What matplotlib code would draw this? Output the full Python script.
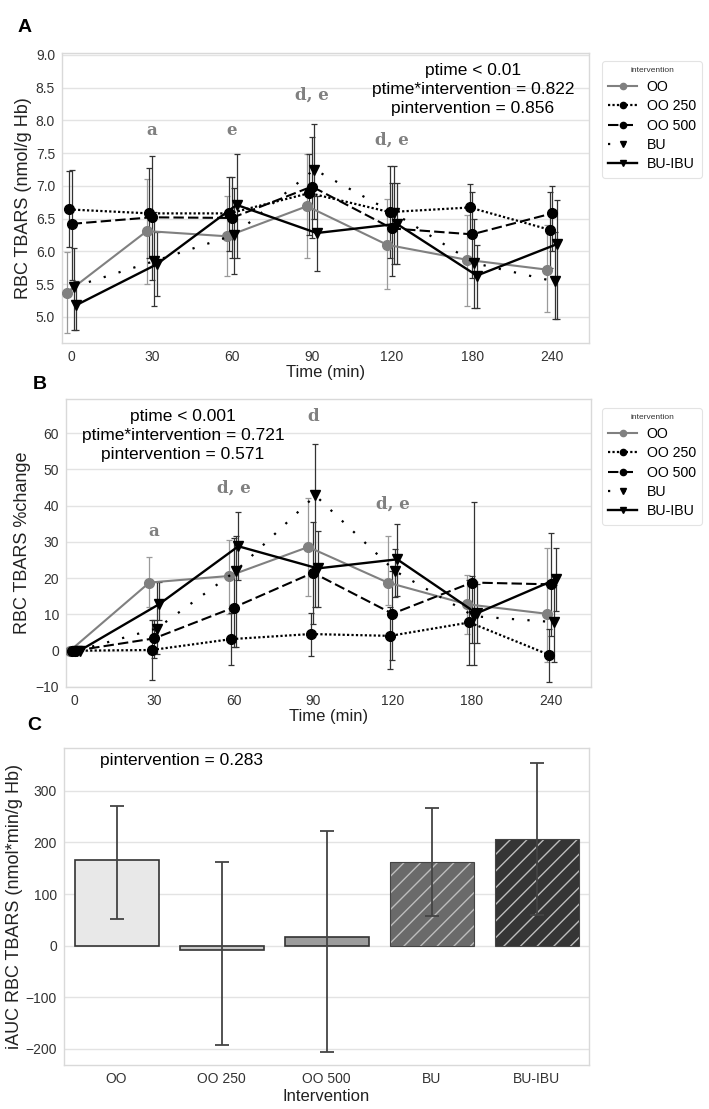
import numpy as np
import matplotlib
matplotlib.use("Agg")
import matplotlib.pyplot as plt
from matplotlib.lines import Line2D

plt.rcParams['font.family'] = ['Liberation Sans', 'DejaVu Sans']

# ---------------- data ----------------
times = ["0", "30", "60", "90", "120", "180", "240"]
groups = ["OO", "OO 250", "OO 500", "BU", "BU-IBU"]

# Panel A: RBC TBARS (nmol/g Hb) means and CI bounds
a_mean = {
    "OO":     [5.37, 6.31, 6.23, 6.69, 6.10, 5.87, 5.72],
    "OO 250": [6.64, 6.58, 6.58, 6.89, 6.60, 6.67, 6.33],
    "OO 500": [6.42, 6.52, 6.51, 6.99, 6.35, 6.26, 6.58],
    "BU":     [5.46, 5.85, 6.25, 7.25, 6.58, 5.82, 5.54],
    "BU-IBU": [5.18, 5.80, 6.71, 6.28, 6.42, 5.63, 6.11],
}
a_low = {
    "OO":     [4.75, 5.50, 5.62, 5.90, 5.43, 5.17, 5.07],
    "OO 250": [6.07, 5.90, 6.00, 6.25, 5.90, 6.30, 5.75],
    "OO 500": [5.57, 5.57, 5.90, 6.20, 5.62, 5.60, 6.00],
    "BU":     [4.80, 5.17, 5.66, 6.50, 5.80, 5.14, 4.97],
    "BU-IBU": [4.80, 5.32, 5.90, 5.70, 5.80, 5.14, 4.97],
}
a_high = {
    "OO":     [5.99, 7.10, 6.85, 7.48, 6.80, 6.55, 6.40],
    "OO 250": [7.22, 7.27, 7.13, 7.48, 7.30, 7.03, 6.90],
    "OO 500": [7.25, 7.45, 7.13, 7.75, 7.05, 6.91, 7.00],
    "BU":     [6.05, 6.60, 6.97, 7.95, 7.31, 6.50, 6.30],
    "BU-IBU": [5.55, 6.30, 7.48, 6.85, 7.05, 6.10, 6.79],
}

# Panel B: RBC TBARS %change
b_mean = {
    "OO":     [0, 18.8, 20.6, 28.6, 18.8, 12.8, 10.2],
    "OO 250": [0, 0.2, 3.2, 4.6, 4.1, 7.8, -1.1],
    "OO 500": [0, 3.4, 11.9, 21.5, 10.2, 18.8, 18.3],
    "BU":     [0, 6.1, 22.0, 42.8, 22.0, 9.5, 7.9],
    "BU-IBU": [0, 12.8, 28.8, 22.7, 25.2, 10.3, 19.7],
}
b_low = {
    "OO":     [0, 12.0, 10.0, 15.0, 12.5, 4.5, -3.0],
    "OO 250": [0, -8.0, -4.0, -1.5, -5.0, -4.0, -8.7],
    "OO 500": [0, -2.0, 1.0, 7.5, -2.5, 2.0, 4.0],
    "BU":     [0, -1.0, 1.0, 12.0, 14.8, -4.0, -3.0],
    "BU-IBU": [0, 8.5, 19.5, 12.0, 15.0, 2.0, 11.0],
}
b_high = {
    "OO":     [0, 25.8, 30.4, 42.0, 31.6, 21.0, 28.3],
    "OO 250": [0, 8.5, 10.5, 10.5, 12.0, 19.5, 6.0],
    "OO 500": [0, 8.5, 31.0, 35.5, 22.0, 20.5, 32.5],
    "BU":     [0, 19.0, 31.5, 57.0, 28.0, 41.0, 18.0],
    "BU-IBU": [0, 19.0, 38.2, 33.0, 35.0, 18.5, 28.3],
}

# Panel C: iAUC RBC TBARS
c_mean = [166, -8, 17, 163, 206]
c_low = [52, -193, -205, 58, 60]
c_high = [271, 163, 223, 266, 353]

# annotations (letter, time index, y value)
a_notes = [("a", 1, 7.85), ("e", 2, 7.85), ("d, e", 3, 8.39), ("d, e", 4, 7.70)]
b_notes = [("a", 1, 33.0), ("d, e", 2, 44.9), ("d", 3, 64.6), ("d, e", 4, 40.3)]

# ---------------- styles ----------------
styles = {
    "OO":     dict(color="#808080", ls="-", marker="o", lw=1.5, ecol="#9a9a9a"),
    "OO 250": dict(color="black", ls=(0, (1, 1)), marker="o", lw=1.6, ecol="#333333"),
    "OO 500": dict(color="black", ls=(0, (5, 2)), marker="o", lw=1.5, ecol="#333333"),
    "BU":     dict(color="black", ls=(0, (1, 6)), marker="v", lw=1.6, ecol="#333333"),
    "BU-IBU": dict(color="black", ls="-", marker="v", lw=1.7, ecol="#333333"),
}
offsets = {"OO": -0.06, "OO 250": -0.03, "OO 500": 0.0, "BU": 0.03, "BU-IBU": 0.06}

W, H = 709, 1109
fig = plt.figure(figsize=(W / 100, H / 100), dpi=100)


def add_ax(l, r, t, b):
    return fig.add_axes([l / W, 1 - b / H, (r - l) / W, (b - t) / H])


def style_ax(ax):
    ax.set_facecolor("white")
    for s in ax.spines.values():
        s.set_color("#d9d9d9")
        s.set_linewidth(1.0)
    ax.grid(axis="y", color="#e3e3e3", lw=1.0)
    ax.set_axisbelow(True)
    ax.tick_params(length=0, labelsize=10, colors="#333333", pad=5)


def point_panel(ax, mean, low, high):
    xs = np.arange(len(times))
    for g in groups:
        st = styles[g]
        x = xs + offsets[g]
        m = np.array(mean[g], float)
        lo = np.array(low[g], float)
        hi = np.array(high[g], float)
        ax.errorbar(x, m, yerr=[m - lo, hi - m], fmt="none", ecolor=st["ecol"],
                    elinewidth=0.9, capsize=2.5, capthick=0.9, zorder=2)
        ax.plot(x, m, color=st["color"], ls=st["ls"], lw=st["lw"], marker=st["marker"],
                ms=7, zorder=3)
    ax.set_xticks(xs)
    ax.set_xticklabels(times)


def legend(ax, anchor):
    handles = [Line2D([], [], color=styles[g]["color"], ls=styles[g]["ls"],
                      lw=styles[g]["lw"], marker=styles[g]["marker"], ms=4.5)
               for g in groups]
    leg = ax.legend(handles, groups, title="intervention", loc="upper left",
                    bbox_to_anchor=anchor, fontsize=10.2, title_fontsize=6,
                    frameon=True, handlelength=2.0, handletextpad=0.7,
                    labelspacing=0.38, borderpad=0.45, borderaxespad=0)
    leg.get_frame().set_edgecolor("#dddddd")
    leg.get_frame().set_linewidth(0.8)
    leg.get_title().set_color("#333333")


note_kw = dict(ha="center", va="center", fontsize=12, fontweight="bold",
               color="#808080", family="DejaVu Serif")

# ---------------- Panel A ----------------
axA = add_ax(62, 589, 53, 343)
style_ax(axA)
point_panel(axA, a_mean, a_low, a_high)
axA.set_xlim(-0.12, 6.46)
axA.set_ylim(4.6, 9.03)
axA.set_yticks(np.arange(5.0, 9.01, 0.5))
axA.set_yticklabels([f"{v:.1f}" for v in np.arange(5.0, 9.01, 0.5)])
axA.set_xlabel("Time (min)", fontsize=12, labelpad=1, color="#222222")
axA.set_ylabel("RBC TBARS (nmol/g Hb)", fontsize=13, labelpad=3, color="#222222")
for txt, i, y in a_notes:
    axA.text(i, y, txt, **note_kw)
axA.text(0.78, 0.965, "ptime < 0.01\nptime*intervention = 0.822\npintervention = 0.856",
         transform=axA.transAxes, ha="center", va="top", fontsize=12.5, linespacing=1.32)
legend(axA, ((602 - 62) / 527, (343 - 61) / 290))
fig.text(25 / W, 1 - 27 / H, "A", fontsize=14, fontweight="bold", ha="center", va="center")

# ---------------- Panel B ----------------
axB = add_ax(66, 591, 399, 687)
style_ax(axB)
point_panel(axB, b_mean, b_low, b_high)
axB.set_xlim(-0.11, 6.5)
axB.set_ylim(-10, 69.4)
axB.set_yticks(np.arange(-10, 61, 10))
axB.set_yticklabels(["\u221210"] + [str(v) for v in range(0, 61, 10)])
axB.set_xlabel("Time (min)", fontsize=12, labelpad=1, color="#222222")
axB.set_ylabel("RBC TBARS %change", fontsize=13, labelpad=3, color="#222222")
for txt, i, y in b_notes:
    axB.text(i, y, txt, **note_kw)
axB.text(0.223, 0.965, "ptime < 0.001\nptime*intervention = 0.721\npintervention = 0.571",
         transform=axB.transAxes, ha="center", va="top", fontsize=12.5, linespacing=1.32)
legend(axB, ((602 - 66) / 525, (687 - 408) / 288))
fig.text(40 / W, 1 - 384 / H, "B", fontsize=14, fontweight="bold", ha="center", va="center")

# ---------------- Panel C ----------------
axC = add_ax(64, 589, 748, 1065)
style_ax(axC)
xc = np.arange(len(groups))
bar_colors = ["#e8e8e8", "#c8c8c8", "#9c9c9c", "#6a6a6a", "#353535"]
hatches = [None, None, None, "//", "//"]
for i in range(len(groups)):
    if hatches[i]:
        axC.bar(xc[i], c_mean[i], width=0.8, color=bar_colors[i], edgecolor="#bdbdbd",
                hatch=hatches[i], linewidth=0, zorder=2)
        axC.bar(xc[i], c_mean[i], width=0.8, fill=False, edgecolor="#444444",
                linewidth=0.8, zorder=2)
    else:
        axC.bar(xc[i], c_mean[i], width=0.8, color=bar_colors[i], edgecolor="#333333",
                linewidth=1.2, zorder=2)
cm = np.array(c_mean, float)
axC.errorbar(xc, cm, yerr=[cm - np.array(c_low), np.array(c_high) - cm], fmt="none",
             ecolor="#444444", elinewidth=1.3, capsize=4.8, capthick=1.3, zorder=3)
axC.set_xticks(xc)
axC.set_xticklabels(groups)
axC.set_xlim(-0.5, 4.5)
axC.set_ylim(-231, 383)
axC.set_yticks(np.arange(-200, 301, 100))
axC.set_yticklabels(["\u2212200", "\u2212100", "0", "100", "200", "300"])
axC.set_xlabel("Intervention", fontsize=12, labelpad=2, color="#222222")
axC.set_ylabel("iAUC RBC TBARS (nmol*min/g Hb)", fontsize=13, labelpad=2, color="#222222")
axC.text(0.069, 0.985, "pintervention = 0.283", transform=axC.transAxes,
         ha="left", va="top", fontsize=12.5)
fig.text(34 / W, 1 - 725 / H, "C", fontsize=14, fontweight="bold", ha="center", va="center")

fig.savefig("out.png", dpi=100)
